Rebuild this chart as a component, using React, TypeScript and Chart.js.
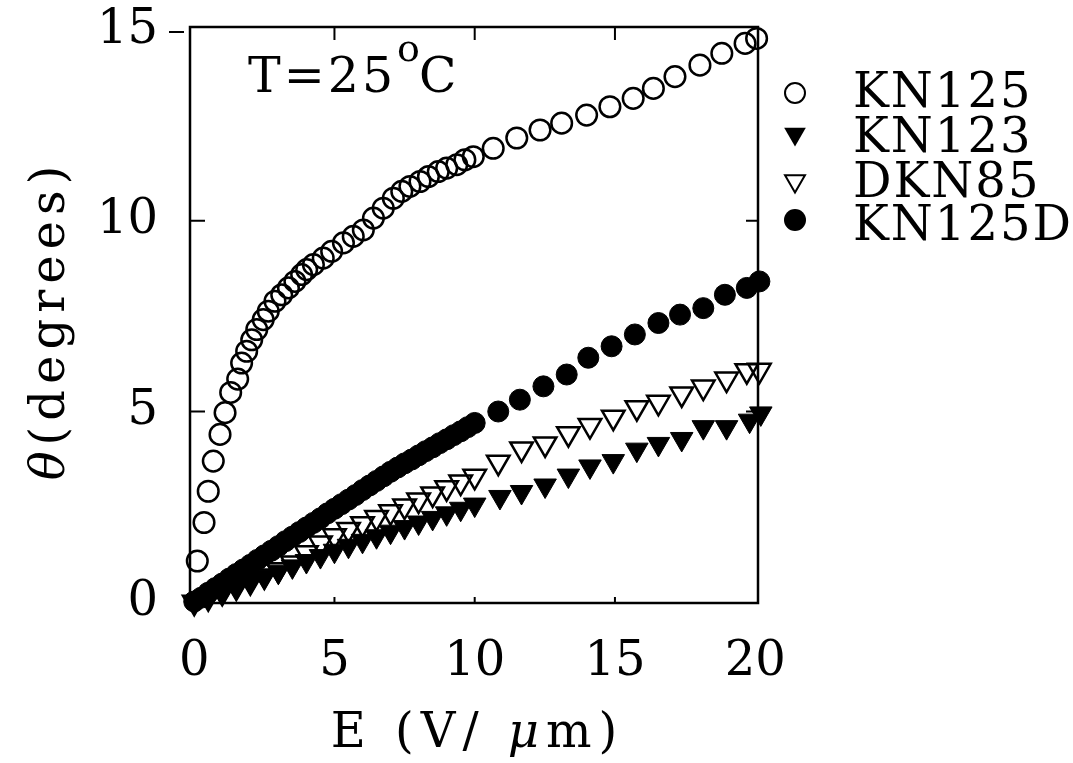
import React, { useEffect, useRef } from 'react';
import { Chart, registerables } from 'chart.js';

Chart.register(...registerables);

const SERIF = '"DejaVu Serif", serif';

// axis ticks
const xTickValues = [0, 5, 10, 15, 20];
const yTickValues = [0, 5, 10, 15];

// KN125 (open circles)
const kn125E = [0.11, 0.35, 0.5, 0.68, 0.92, 1.1, 1.3, 1.55, 1.69, 1.87, 2.05, 2.23, 2.46, 2.64, 2.88, 3.12, 3.36, 3.59, 3.83, 4.01, 4.25, 4.6, 4.9, 5.32, 5.67, 6.03, 6.39, 6.74, 7.1, 7.4, 7.69, 8.05, 8.35, 8.7, 9.0, 9.36, 9.65, 9.95, 10.66, 11.5, 12.33, 13.1, 13.99, 14.82, 15.65, 16.37, 17.14, 18.03, 18.81, 19.64, 20.05];
const kn125Theta = [1.08, 2.09, 2.91, 3.7, 4.4, 4.97, 5.5, 5.85, 6.27, 6.58, 6.88, 7.15, 7.41, 7.63, 7.89, 8.06, 8.24, 8.41, 8.59, 8.72, 8.85, 9.02, 9.2, 9.42, 9.59, 9.76, 10.07, 10.33, 10.59, 10.77, 10.9, 11.03, 11.16, 11.29, 11.38, 11.47, 11.6, 11.68, 11.9, 12.17, 12.38, 12.56, 12.77, 12.99, 13.21, 13.47, 13.78, 14.08, 14.39, 14.65, 14.78];

// KN125D (filled circles)
const kn125dE = [0, 0.25, 0.5, 0.75, 1, 1.25, 1.5, 1.75, 2, 2.25, 2.5, 2.75, 3, 3.25, 3.5, 3.75, 4, 4.25, 4.5, 4.75, 5, 5.25, 5.5, 5.75, 6, 6.25, 6.5, 6.75, 7, 7.25, 7.5, 7.75, 8, 8.25, 8.5, 8.75, 9, 9.25, 9.5, 9.75, 10, 10.84, 11.61, 12.45, 13.28, 14.05, 14.88, 15.71, 16.55, 17.32, 18.15, 18.92, 19.7, 20.15];
const kn125dTheta = [0.02, 0.12, 0.25, 0.37, 0.49, 0.62, 0.74, 0.86, 0.98, 1.11, 1.23, 1.35, 1.47, 1.6, 1.72, 1.84, 1.96, 2.08, 2.2, 2.33, 2.45, 2.57, 2.69, 2.81, 2.94, 3.06, 3.18, 3.3, 3.42, 3.53, 3.64, 3.74, 3.85, 3.96, 4.06, 4.17, 4.27, 4.38, 4.48, 4.59, 4.7, 5.0, 5.31, 5.66, 5.97, 6.41, 6.71, 7.02, 7.32, 7.54, 7.71, 8.06, 8.24, 8.41];

// KN123 (filled triangles)
const kn123E = [0, 0.5, 1, 1.5, 2, 2.5, 3, 3.5, 4, 4.5, 5, 5.5, 6, 6.5, 7, 7.5, 8, 8.5, 9, 9.5, 10, 10.9, 11.67, 12.51, 13.34, 14.11, 14.94, 15.78, 16.55, 17.38, 18.15, 18.98, 19.8, 20.2];
const kn123Theta = [0, 0.11, 0.24, 0.38, 0.52, 0.66, 0.8, 0.94, 1.08, 1.21, 1.35, 1.48, 1.61, 1.73, 1.85, 1.97, 2.09, 2.21, 2.33, 2.45, 2.56, 2.76, 2.89, 3.06, 3.32, 3.56, 3.7, 4.0, 4.15, 4.28, 4.59, 4.59, 4.76, 4.95];

// DKN85 (open triangles)
const dkn85E = [0, 0.5, 1, 1.5, 2, 2.5, 3, 3.5, 4, 4.5, 5, 5.5, 6, 6.5, 7, 7.5, 8, 8.5, 9, 9.5, 10, 10.84, 11.67, 12.51, 13.34, 14.11, 14.94, 15.78, 16.55, 17.38, 18.15, 18.98, 19.7, 20.15];
const dkn85Theta = [0, 0.12, 0.26, 0.4, 0.54, 0.69, 0.85, 1.03, 1.3, 1.55, 1.74, 1.91, 2.06, 2.22, 2.37, 2.52, 2.68, 2.84, 3.0, 3.15, 3.3, 3.67, 4.02, 4.15, 4.42, 4.63, 4.85, 5.1, 5.24, 5.46, 5.64, 5.85, 6.07, 6.08];

const legendLabels = ['KN125', 'KN123', 'DKN85', 'KN125D'];

const toPoints = (xs: number[], ys: number[]) => xs.map((x, i) => ({ x, y: ys[i] }));

function drawMarker(ctx: CanvasRenderingContext2D, style: string, rotation: number, r: number, x: number, y: number, filled: boolean, lw: number) {
  ctx.beginPath();
  if (style === 'circle') {
    ctx.arc(x, y, r, 0, Math.PI * 2);
  } else {
    let a = (rotation * Math.PI) / 180;
    for (let k = 0; k < 3; k++) {
      const px = x + Math.sin(a) * r;
      const py = y - Math.cos(a) * r;
      if (k === 0) ctx.moveTo(px, py);
      else ctx.lineTo(px, py);
      a += (2 * Math.PI) / 3;
    }
    ctx.closePath();
  }
  if (filled) {
    ctx.fillStyle = '#000';
    ctx.fill();
  } else {
    ctx.lineWidth = lw;
    ctx.strokeStyle = '#000';
    ctx.stroke();
  }
}

// draw a row of text pieces (some italic), centred on x or starting at x
function drawPieces(ctx: any, parts: { t: string; it: boolean }[], size: number, spacing: number, x: number, y: number, centre: boolean) {
  const fontFor = (it: boolean) => `${it ? 'italic ' : ''}${size}px ${SERIF}`;
  ctx.letterSpacing = `${spacing}px`;
  let total = 0;
  parts.forEach((p) => {
    ctx.font = fontFor(p.it);
    total += ctx.measureText(p.t).width;
  });
  let cx = centre ? x - (total - spacing) / 2 : x;
  parts.forEach((p) => {
    ctx.font = fontFor(p.it);
    ctx.fillText(p.t, cx, y);
    cx += ctx.measureText(p.t).width;
  });
  ctx.letterSpacing = '0px';
}

const framePlugin = {
  id: 'frame',
  afterDatasetsDraw(chart: any) {
    const { ctx, chartArea: a, scales } = chart;
    const xs = scales.x;
    const ys = scales.y;
    ctx.save();
    ctx.strokeStyle = '#000';
    ctx.fillStyle = '#000';

    // box
    ctx.lineWidth = 2.5;
    ctx.strokeRect(a.left, a.top, a.right - a.left, a.bottom - a.top);

    // inward ticks
    ctx.lineWidth = 2;
    ctx.beginPath();
    xTickValues.filter((v) => v > 0 && v < 20).forEach((v) => {
      const px = xs.getPixelForValue(v);
      ctx.moveTo(px, a.bottom);
      ctx.lineTo(px, a.bottom - 6);
      ctx.moveTo(px, a.top);
      ctx.lineTo(px, a.top + 13);
    });
    yTickValues.filter((v) => v > 0 && v < 15).forEach((v) => {
      const py = ys.getPixelForValue(v);
      ctx.moveTo(a.left, py);
      ctx.lineTo(a.left + 15, py);
      ctx.moveTo(a.right, py);
      ctx.lineTo(a.right - 12, py);
    });
    const p15 = ys.getPixelForValue(15) + 2;
    ctx.moveTo(a.left - 21, p15);
    ctx.lineTo(a.left - 6, p15);
    ctx.stroke();

    ctx.textBaseline = 'alphabetic';
    ctx.textAlign = 'left';

    // temperature note
    drawPieces(ctx, [{ t: 'T=25', it: false }], 49, 3, 248, 92, false);
    drawPieces(ctx, [{ t: 'o', it: false }], 38, 0, 397, 61, false);
    drawPieces(ctx, [{ t: 'C', it: false }], 49, 0, 419, 92, false);

    // x title
    drawPieces(
      ctx,
      [
        { t: 'E (V/ ', it: false },
        { t: 'μ', it: true },
        { t: 'm)', it: false },
      ],
      48, 7, (a.left + a.right) / 2, 747, true
    );

    // y title
    ctx.save();
    ctx.translate(64, 323);
    ctx.rotate(-Math.PI / 2);
    drawPieces(
      ctx,
      [
        { t: 'θ', it: true },
        { t: '(degrees)', it: false },
      ],
      48, 6, 0, 0, true
    );
    ctx.restore();

    // legend
    const markerY = [93, 134, 181, 220];
    const textBase = [107, 152, 197, 240];
    legendLabels.forEach((label, i) => {
      const ds = chart.data.datasets.find((d: any) => d.label === label);
      const filled = ds.pointBackgroundColor === '#000';
      const r = ds.pointStyle === 'circle' ? (filled ? 11 : 10) : filled ? 12.5 : 11.5;
      drawMarker(ctx, ds.pointStyle, ds.pointRotation || 0, r, 795, markerY[i], filled, 2);
      drawPieces(ctx, [{ t: label, it: false }], 48, 2, 853, textBase[i], false);
    });

    ctx.restore();
  },
};

export default function App() {
  const canvasRef = useRef<HTMLCanvasElement>(null);
  const chartRef = useRef<Chart | null>(null);

  useEffect(() => {
    if (!canvasRef.current) return;
    if (chartRef.current) chartRef.current.destroy();

    const tickFont = { family: SERIF, size: 48 };

    chartRef.current = new Chart(canvasRef.current, {
      type: 'scatter',
      data: {
        datasets: [
          {
            label: 'KN125',
            data: toPoints(kn125E, kn125Theta),
            pointStyle: 'circle',
            pointRadius: 10.3,
            pointBorderWidth: 2.5,
            pointBackgroundColor: 'rgba(0,0,0,0)',
            pointBorderColor: '#000',
            clip: false,
          },
          {
            label: 'KN125D',
            data: toPoints(kn125dE, kn125dTheta),
            pointStyle: 'circle',
            pointRadius: 10.5,
            pointBorderWidth: 1,
            pointBackgroundColor: '#000',
            pointBorderColor: '#000',
            clip: false,
          },
          {
            label: 'KN123',
            data: toPoints(kn123E, kn123Theta),
            pointStyle: 'triangle',
            pointRotation: 180,
            pointRadius: 13,
            pointBorderWidth: 1,
            pointBackgroundColor: '#000',
            pointBorderColor: '#000',
            clip: false,
          },
          {
            label: 'DKN85',
            data: toPoints(dkn85E, dkn85Theta),
            pointStyle: 'triangle',
            pointRotation: 180,
            pointRadius: 13,
            pointBorderWidth: 2.5,
            pointBackgroundColor: 'rgba(0,0,0,0)',
            pointBorderColor: '#000',
            clip: false,
          },
        ] as any,
      },
      options: {
        animation: false,
        responsive: true,
        maintainAspectRatio: false,
        events: [],
        layout: { padding: { top: 27, right: 315, bottom: 0, left: 0 } },
        plugins: {
          legend: { display: false },
          tooltip: { enabled: false },
        },
        scales: {
          x: {
            type: 'linear',
            min: -0.15,
            max: 20.1,
            grid: { display: false, drawTicks: false },
            border: { display: false },
            afterBuildTicks: (s: any) => {
              s.ticks = xTickValues.map((v) => ({ value: v }));
            },
            afterFit: (s: any) => {
              s.height = 160;
              s.paddingLeft = 0;
              s.paddingRight = 0;
            },
            ticks: {
              font: tickFont,
              color: '#000',
              padding: 31,
              maxRotation: 0,
              autoSkip: false,
            },
          },
          y: {
            type: 'linear',
            min: -0.02,
            max: 15.08,
            grid: { display: false, drawTicks: false },
            border: { display: false },
            afterBuildTicks: (s: any) => {
              s.ticks = yTickValues.map((v) => ({ value: v }));
            },
            afterFit: (s: any) => {
              s.width = 190;
              s.paddingTop = 0;
              s.paddingBottom = 0;
            },
            ticks: {
              font: tickFont,
              color: '#000',
              padding: 32,
              autoSkip: false,
            },
          },
        },
      } as any,
      plugins: [framePlugin],
    });

    return () => {
      if (chartRef.current) {
        chartRef.current.destroy();
        chartRef.current = null;
      }
    };
  }, []);

  return (
    <div style={{ position: 'fixed', left: 0, top: 0, width: 1073, height: 763, background: '#fff' }}>
      <canvas ref={canvasRef}></canvas>
    </div>
  );
}
